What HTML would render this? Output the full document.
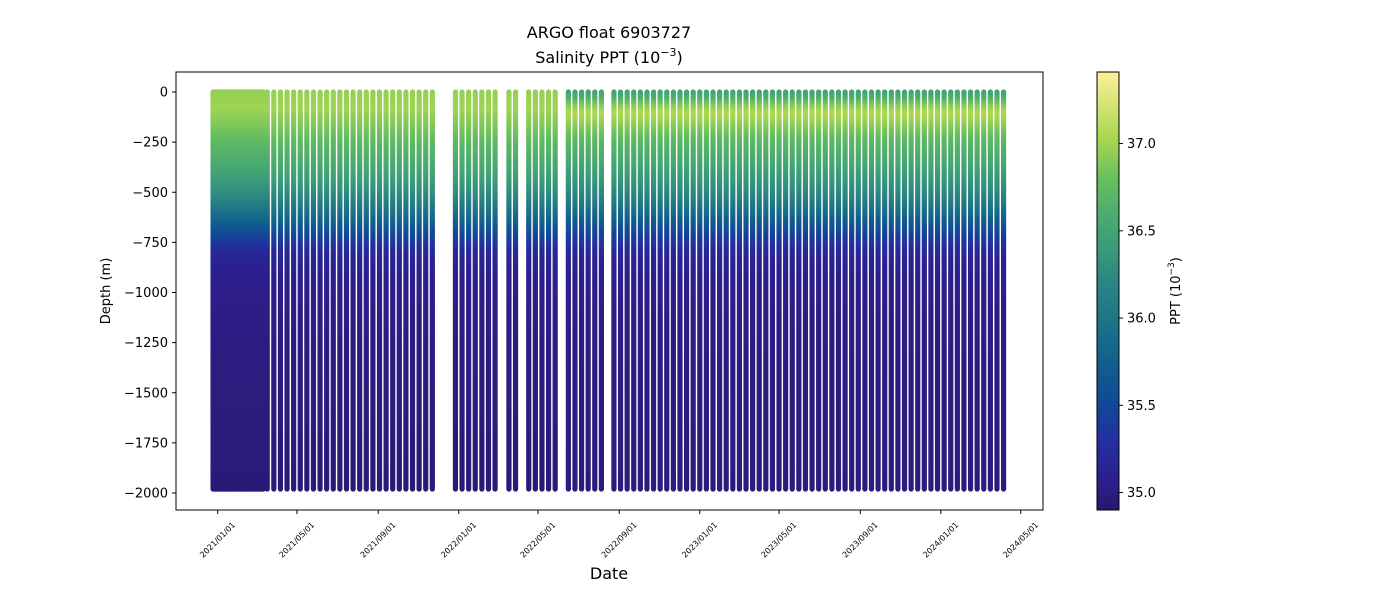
<!DOCTYPE html>
<html><head><meta charset="utf-8"><style>
body{margin:0;background:#fff;font-family:"Liberation Sans","DejaVu Sans",sans-serif}
svg text{font-family:"DejaVu Sans","Liberation Sans",sans-serif;fill:#000}
</style></head><body>
<svg id="chart" width="1400" height="600" viewBox="0 0 1400 600">
<rect x="0" y="0" width="1400" height="600" fill="#fff"/>
<defs id="defs"><linearGradient id="cbg" x1="0" y1="1" x2="0" y2="0"></linearGradient></defs>
<g id="cols"></g>
<rect x="176" y="72" width="867" height="438" fill="none" stroke="#000" stroke-width="1"/>
<g id="yticks"></g>
<g id="xticks"></g>
<text x="609" y="38" font-size="16" text-anchor="middle">ARGO float 6903727</text>
<text x="609" y="63" font-size="16" text-anchor="middle">Salinity PPT (10<tspan dy="-7" font-size="11">−3</tspan><tspan dy="7">)</tspan></text>
<text transform="translate(110,291) rotate(-90)" font-size="13" text-anchor="middle">Depth (m)</text>
<text x="609" y="579" font-size="16" text-anchor="middle">Date</text>
<rect x="1097" y="72" width="22" height="438" fill="url(#cbg)" stroke="#000" stroke-width="1"/>
<g id="cbticks"></g>
<text transform="translate(1180,291) rotate(-90)" font-size="13" text-anchor="middle">PPT (10<tspan dy="-6" font-size="9">−3</tspan><tspan dy="6">)</tspan></text>
</svg>
<script>
// ---- data ----
const denseDays = [-7,-6,-5,-4,-3,-2,-1,0,1,2,3,4,5,6,7,8,9,10,11,12,13,14,15,16,17,18,19,20,21,22,23,24,25,26,27,28,29,30,31,32,33,34,35,36,37,38,39,40,41,42,43,44,45,46,47,48,49,50,51,52,53,54,55,56,57,58,59,60,61,62,63,64,65,66,67,68,69];
const sparseDays = [75,85,95,105,115,125,135,145,155,165,175,185,195,205,215,225,235,245,255,265,275,285,295,305,315,325,
 360,370,380,390,400,410,420, 441,451, 471,481,491,501,511, 531,541,551,561,571,581,
 600,610,620,630,640,650,660,670,680,690,700,710,720,730,740,750,760,770,780,790,800,810,820,830,840,850,860,870,880,890,
 900,910,920,930,940,950,960,970,980,990,1000,1010,1020,1030,1040,1050,1060,1070,1080,1090,1100,1110,1120,1130,1140,1150,1160,1170,1180,1190];
const depthLevels = [0,25,50,75,100,125,150,200,250,300,350,400,450,500,550,600,650,700,750,800,850,900,1000,1100,1300,1500,1750,1980];
const salinityEarly = [36.95,36.97,36.98,37.0,36.97,36.93,36.9,36.82,36.72,36.65,36.58,36.5,36.4,36.28,36.12,35.95,35.75,35.55,35.35,35.2,35.12,35.07,35.04,35.02,35.0,34.99,34.97,34.96];
const salinityLate = [36.5,36.6,36.8,36.95,37.05,37.02,36.95,36.82,36.7,36.62,36.54,36.45,36.35,36.22,36.07,35.88,35.68,35.48,35.32,35.19,35.11,35.07,35.04,35.02,35.01,35.0,34.99,34.98];
const yTicks = [0,-250,-500,-750,-1000,-1250,-1500,-1750,-2000];
const yTickLabels = ["0","−250","−500","−750","−1000","−1250","−1500","−1750","−2000"];
const xTickDays = [0,120,243,365,485,608,730,850,973,1095,1216];
const xTickLabels = ["2021/01/01","2021/05/01","2021/09/01","2022/01/01","2022/05/01","2022/09/01","2023/01/01","2023/05/01","2023/09/01","2024/01/01","2024/05/01"];
const cbTicks = [35.0,35.5,36.0,36.5,37.0];
const cbLabels = ["35.0","35.5","36.0","36.5","37.0"];
// ---- scales ----
const NS="http://www.w3.org/2000/svg";
const xOf = d => 217.7 + d*0.6604;
const yOf = z => 92 - z*0.2005;
const SMIN=34.9, SMAX=37.41;
const cbY = s => 510 - (s-SMIN)/(SMAX-SMIN)*438;
const stops=[[0,[40,24,106]],[0.06,[45,30,140]],[0.15,[38,45,160]],[0.25,[15,75,150]],[0.38,[20,105,138]],[0.5,[40,130,132]],[0.62,[60,160,120]],[0.75,[100,190,95]],[0.85,[170,215,80]],[1,[253,239,154]]];
function cmap(s){let t=(s-SMIN)/(SMAX-SMIN);t=Math.max(0,Math.min(1,t));
 for(let i=1;i<stops.length;i++){if(t<=stops[i][0]){const a=stops[i-1],b=stops[i];const f=(t-a[0])/(b[0]-a[0]);
 const c=a[1].map((v,k)=>Math.round(v+(b[1][k]-v)*f));return `rgb(${c[0]},${c[1]},${c[2]})`;}}return 'rgb(253,239,154)';}
function mk(tag,attrs,parent){const e=document.createElementNS(NS,tag);for(const k in attrs)e.setAttribute(k,attrs[k]);parent.appendChild(e);return e;}
const defs=document.getElementById('defs');
const zTop=yOf(0), zBot=yOf(-depthLevels[depthLevels.length-1]);
function makeGrad(id,prof){
 const g=mk('linearGradient',{id:id,gradientUnits:'userSpaceOnUse',x1:0,y1:zTop-3,x2:0,y2:zBot+3},defs);
 depthLevels.forEach((z,i)=>{const off=(yOf(-z)-(zTop-3))/((zBot+3)-(zTop-3));
  mk('stop',{offset:off.toFixed(4),'stop-color':cmap(prof[i])},g);});
}
makeGrad('gEarly',salinityEarly);
makeGrad('gLate',salinityLate);
const cols=document.getElementById('cols');
function drawCol(d,gid){
 const x=xOf(d);
 const r=mk('rect',{x:x-2.6,y:zTop-2.6,width:5.2,height:zBot-zTop+5.2,rx:2.6,ry:2.6,fill:`url(#${gid})`},cols);
 
 
}
denseDays.forEach(d=>drawCol(d,'gEarly'));
sparseDays.forEach(d=>drawCol(d,d>=530?'gLate':'gEarly'));
// y ticks
const yt=document.getElementById('yticks');
yTicks.forEach((v,i)=>{const y=yOf(v);
 mk('line',{x1:172,x2:176,y1:y,y2:y,stroke:'#000'},yt);
 const t=mk('text',{x:168,y:y+4.5,'font-size':13,'text-anchor':'end'},yt);t.textContent=yTickLabels[i];
 
 });
// x ticks
const xt=document.getElementById('xticks');
xTickDays.forEach((d,i)=>{const x=xOf(d);
 mk('line',{x1:x,x2:x,y1:510,y2:514,stroke:'#000'},xt);
 const t=mk('text',{transform:`translate(${x},540) rotate(-45)`,'font-size':8,'text-anchor':'middle','dominant-baseline':'middle'},xt);t.textContent=xTickLabels[i];
 
 });
// colorbar
const grad=document.getElementById('cbg');
for(let k=0;k<=20;k++){const s=SMIN+(SMAX-SMIN)*k/20;mk('stop',{offset:(k/20),'stop-color':cmap(s)},grad);}
const cbt=document.getElementById('cbticks');
cbTicks.forEach((v,i)=>{const y=cbY(v);
 mk('line',{x1:1119,x2:1123,y1:y,y2:y,stroke:'#000'},cbt);
 const t=mk('text',{x:1127,y:y+4.5,'font-size':13},cbt);t.textContent=cbLabels[i];
 
 });
</script>
</body></html>
